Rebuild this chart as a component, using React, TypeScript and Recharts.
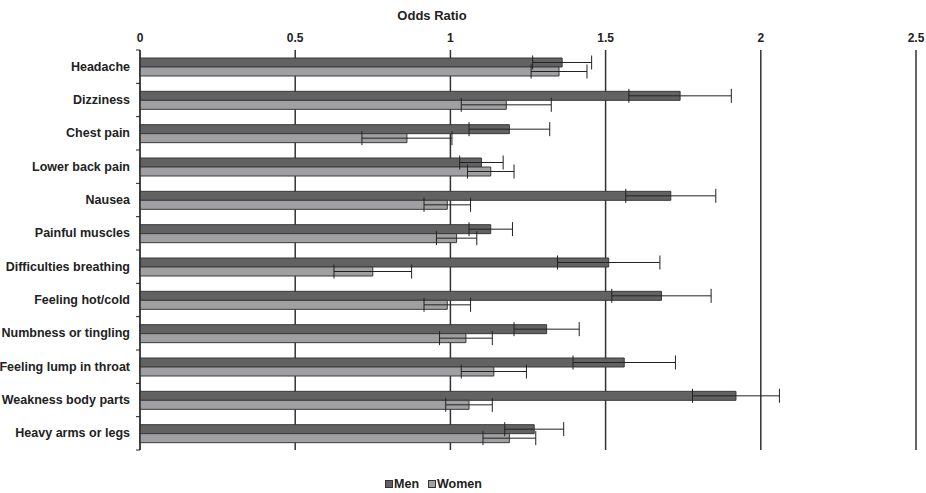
import { BarChart, Bar, XAxis, YAxis, CartesianGrid, ErrorBar, Legend } from "recharts";

const symptoms = [
  "Headache",
  "Dizziness",
  "Chest pain",
  "Lower back pain",
  "Nausea",
  "Painful muscles",
  "Difficulties breathing",
  "Feeling hot/cold ",
  "Numbness or tingling",
  "Feeling lump in throat",
  "Weakness body parts",
  "Heavy arms or legs",
];

// odds ratios and 95% CI bounds
const menOR = [1.36, 1.74, 1.19, 1.10, 1.71, 1.13, 1.51, 1.68, 1.31, 1.56, 1.92, 1.27];
const menLow = [1.265, 1.575, 1.06, 1.03, 1.565, 1.06, 1.345, 1.52, 1.205, 1.395, 1.78, 1.175];
const menHigh = [1.455, 1.905, 1.32, 1.17, 1.855, 1.20, 1.675, 1.84, 1.415, 1.725, 2.06, 1.365];

const womenOR = [1.35, 1.18, 0.86, 1.13, 0.99, 1.02, 0.75, 0.99, 1.05, 1.14, 1.06, 1.19];
const womenLow = [1.26, 1.035, 0.715, 1.055, 0.915, 0.955, 0.625, 0.915, 0.965, 1.035, 0.985, 1.105];
const womenHigh = [1.44, 1.325, 1.005, 1.205, 1.065, 1.085, 0.875, 1.065, 1.135, 1.245, 1.135, 1.275];

const xTicks = [0, 0.5, 1, 1.5, 2, 2.5];

const data = symptoms.map((name, i) => ({
  name,
  men: menOR[i],
  menErr: [menOR[i] - menLow[i], menHigh[i] - menOR[i]],
  women: womenOR[i],
  womenErr: [womenOR[i] - womenLow[i], womenHigh[i] - womenOR[i]],
}));

const W = 926;
const H = 493;
const TOP = 50;
const BOTTOM = 450;
const band = (BOTTOM - TOP) / symptoms.length;
const font = "'Liberation Sans', Arial, sans-serif";

const CategoryTick = (props: any) => {
  const { x, y, payload, index } = props;
  const ax = x + 8;
  return (
    <g>
      <text x={x - 2} y={y} dy={4} textAnchor="end" fontSize={12.5} fontWeight="bold" fill="#222" fontFamily={font}>
        {payload.value}
      </text>
      <line x1={ax - 4} x2={ax} y1={y - band / 2} y2={y - band / 2} stroke="#222" />
      {index === symptoms.length - 1 && (
        <line x1={ax - 4} x2={ax} y1={y + band / 2} y2={y + band / 2} stroke="#222" />
      )}
    </g>
  );
};

const LegendBox = () => (
  <div style={{ display: "flex", justifyContent: "center", fontFamily: font, fontSize: 12.5, fontWeight: "bold", color: "#222", paddingTop: 27, paddingRight: 40 }}>
    {[
      { label: "Men", color: "#626262" },
      { label: "Women", color: "#a0a0a3" },
    ].map((d) => (
      <span key={d.label} style={{ display: "flex", alignItems: "center", marginRight: 9 }}>
        <span style={{ width: 6, height: 6, background: d.color, border: "1px solid #333", marginRight: 1 }} />
        {d.label}
      </span>
    ))}
  </div>
);

export default function App() {
  return (
    <div style={{ position: "absolute", left: 0, top: 0, background: "#fff" }}>
      <BarChart
        width={W}
        height={H}
        data={data}
        layout="vertical"
        margin={{ top: 9, right: 10, bottom: 4, left: 0 }}
        barSize={9}
        barGap={0}
      >
        <CartesianGrid horizontal={false} stroke="#333" strokeWidth={1.5} />
        <XAxis
          type="number"
          orientation="top"
          domain={[0, 2.5]}
          ticks={xTicks}
          height={41}
          axisLine={false}
          tickLine={false}
          tick={{ fontSize: 12, fontWeight: "bold", fill: "#222", fontFamily: font }}
          tickMargin={2}
          label={{ value: "Odds Ratio", position: "insideTop", offset: 2, dx: -96, fontSize: 13, fontWeight: "bold", fill: "#222", fontFamily: font }}
        />
        <YAxis
          type="category"
          dataKey="name"
          width={140}
          axisLine={{ stroke: "#222" }}
          tickLine={false}
          tick={<CategoryTick />}
          interval={0}
        />
        <Legend verticalAlign="bottom" height={39} content={<LegendBox />} />
        <Bar dataKey="men" name="Men" fill="#626262" stroke="#3a3a3a" strokeWidth={1} isAnimationActive={false}>
          <ErrorBar dataKey="menErr" direction="x" width={7} stroke="#222" strokeWidth={1} />
        </Bar>
        <Bar dataKey="women" name="Women" fill="#a0a0a3" stroke="#3a3a3a" strokeWidth={1} isAnimationActive={false}>
          <ErrorBar dataKey="womenErr" direction="x" width={7} stroke="#222" strokeWidth={1} />
        </Bar>
      </BarChart>
    </div>
  );
}
